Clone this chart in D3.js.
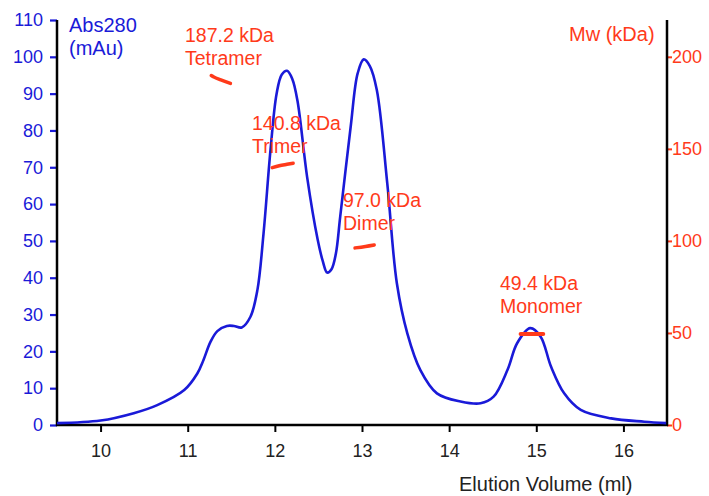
<!DOCTYPE html>
<html><head><meta charset="utf-8">
<script src="https://cdn.jsdelivr.net/npm/d3@7"></script>
<style>body{margin:0;background:#fff}svg{display:block}text{font-family:"Liberation Sans",Arial,sans-serif}</style>
</head><body><svg id="c" width="709" height="496"></svg>
<script>
// Absorbance trace (elution volume ml, Abs280 mAu)
const volume = [9.5,10.0,10.38,10.65,10.96,11.11,11.18,11.26,11.34,11.45,11.53,11.62,11.72,11.80,11.87,11.95,12.02,12.08,12.14,12.20,12.26,12.37,12.49,12.55,12.60,12.65,12.70,12.75,12.87,12.95,13.02,13.09,13.17,13.29,13.40,13.52,13.67,13.86,14.13,14.36,14.51,14.67,14.78,14.93,15.05,15.17,15.32,15.51,15.86,16.24,16.49];
const abs280 = [0.5,1.2,3.2,5.4,9.5,14,17.6,22.5,25.5,26.9,26.9,26.5,29.4,36.7,52,74.7,90,95.2,96.2,94,88,67.4,50.5,44.5,41.4,42.3,46.5,56.6,81,95.5,99.3,97.5,91,65.6,38.5,24.9,14.9,8.6,6.4,5.9,7.7,15,22.2,26.3,24,15.8,8.6,4.1,1.8,0.9,0.5];
// MALS molecular weight segments (kDa)
const tetramerVol = [11.27,11.3,11.38,11.49];
const tetramerMw  = [189.8,189.0,187.5,185.6];
const trimerVol = [11.97,12.05,12.14,12.21];
const trimerMw  = [139.8,140.8,141.6,142.2];
const dimerVol = [12.92,13.04,13.14];
const dimerMw  = [96.2,97.0,97.8];
const monomerVol = [14.82,14.95,15.08];
const monomerMw  = [49.4,49.4,49.4];
const annotations = [["187.2 kDa","Tetramer"],["140.8 kDa","Trimer"],["97.0 kDa","Dimer"],["49.4 kDa","Monomer"]];
const xTicks = [10,11,12,13,14,15,16];
const yTicks = [0,10,20,30,40,50,60,70,80,90,100,110];
const y2Ticks = [0,50,100,150,200];

const svg = d3.select("#c");
const L=57, R=667, T=20, B=425;
const blue="#1a1ad8", red="#ff3a1a", axisTxt="#222";
const x = d3.scaleLinear().domain([9.5,16.5]).range([L,R]);
const y = d3.scaleLinear().domain([0,110]).range([B,T]);
const y2 = d3.scaleLinear().domain([0,220]).range([B,T]);

// axes
const gx = svg.append("g").attr("transform",`translate(0,${B})`)
  .call(d3.axisBottom(x).tickValues(xTicks).tickSize(7).tickSizeOuter(0).tickPadding(6).tickFormat(d3.format("d")));
gx.select(".domain").remove();
gx.selectAll(".tick line").attr("stroke","#000").attr("stroke-width",2);
gx.selectAll("text").attr("fill",axisTxt).attr("font-size",18).attr("y",32).attr("dy",0);

const gy = svg.append("g").attr("transform",`translate(${L},0)`)
  .call(d3.axisLeft(y).tickValues(yTicks).tickSize(7).tickSizeOuter(0).tickPadding(7));
gy.select(".domain").remove();
gy.selectAll(".tick line").attr("stroke",blue).attr("stroke-width",2.2);
gy.selectAll("text").attr("fill",blue).attr("font-size",18);

const gy2 = svg.append("g").attr("transform",`translate(${R},0)`)
  .call(d3.axisRight(y2).tickValues(y2Ticks).tickSize(5).tickSizeOuter(0).tickPadding(0));
gy2.select(".domain").remove();
gy2.selectAll(".tick line").attr("stroke",red).attr("stroke-width",2);
gy2.selectAll("text").attr("fill",red).attr("font-size",18);

// frame lines
svg.append("line").attr("x1",L).attr("x2",L).attr("y1",T).attr("y2",B+1).attr("stroke","#000").attr("stroke-width",2.5);
svg.append("line").attr("x1",R).attr("x2",R).attr("y1",T).attr("y2",B+1).attr("stroke","#000").attr("stroke-width",2.5);
svg.append("line").attr("x1",L-1).attr("x2",R+1).attr("y1",B).attr("y2",B).attr("stroke","#000").attr("stroke-width",2.5);

// trace
const line = d3.line().x(d=>x(d[0])).y(d=>y(d[1])).curve(d3.curveCatmullRom.alpha(0.5));
svg.append("path").datum(volume.map((v,i)=>[v,abs280[i]]))
  .attr("d",line).attr("fill","none").attr("stroke",blue).attr("stroke-width",2.6);

// MW segments
const mline = d3.line().x(d=>x(d[0])).y(d=>y2(d[1])).curve(d3.curveMonotoneX);
[[tetramerVol,tetramerMw],[trimerVol,trimerMw],[dimerVol,dimerMw],[monomerVol,monomerMw]].forEach(([vs,ms],i)=>{
  svg.append("path").datum(vs.map((v,j)=>[v,ms[j]])).attr("d",mline)
    .attr("fill","none").attr("stroke",red).attr("stroke-width",i===3?4:3.5).attr("stroke-linecap","round");
});

// annotation labels
const annPos = [[185,42],[252,130],[343,207],[500,290]];
annotations.forEach((a,i)=>{
  const t = svg.append("text").attr("x",annPos[i][0]).attr("y",annPos[i][1]).attr("fill",red).attr("font-size",19.5);
  t.append("tspan").text(a[0]);
  t.append("tspan").attr("x",annPos[i][0]).attr("dy",23).text(a[1]);
});

// axis titles
const at = svg.append("text").attr("x",69).attr("y",32).attr("fill",blue).attr("font-size",20);
at.append("tspan").text("Abs280");
at.append("tspan").attr("x",69).attr("dy",22.5).text("(mAu)");
svg.append("text").attr("x",569).attr("y",41).attr("fill",red).attr("font-size",20).text("Mw (kDa)");
svg.append("text").attr("x",459).attr("y",491).attr("fill",axisTxt).attr("font-size",20).text("Elution Volume (ml)");
</script></body></html>
